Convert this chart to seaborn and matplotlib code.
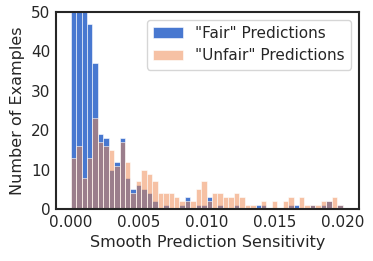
import numpy as np
import pandas as pd
import matplotlib
matplotlib.use("Agg")
import matplotlib.pyplot as plt
import seaborn as sns

# Histogram counts per bin (bin width 0.0004 over 0 .. 0.02)
bin_start = 0.0
bin_stop = 0.02
n_bins = 50
fair_counts = [100, 80, 60, 47, 37, 19, 18, 10, 12, 18,
               8, 5, 6, 5, 4, 2, 0, 1, 0, 0,
               1, 3, 0, 1, 1, 3, 0, 1, 0, 0,
               1, 0, 0, 0, 1, 1, 0, 0, 0, 0,
               1, 1, 0, 0, 1, 0, 1, 2, 0, 1]
unfair_counts = [13, 16, 8, 13, 23, 17, 16, 15, 11, 17,
                 12, 4, 7, 10, 9, 7, 4, 4, 4, 3,
                 2, 2, 2, 5, 7, 2, 4, 4, 3, 3,
                 4, 3, 1, 1, 0, 2, 0, 2, 0, 2,
                 3, 0, 3, 1, 1, 1, 2, 2, 3, 1]
labels = ['"Fair" Predictions', '"Unfair" Predictions']
x_ticks = [0.000, 0.005, 0.010, 0.015, 0.020]
y_ticks = [0, 10, 20, 30, 40, 50]

edges = np.linspace(bin_start, bin_stop, n_bins + 1)
centers = (edges[:-1] + edges[1:]) / 2
df_fair = pd.DataFrame({"x": centers, "w": fair_counts})
df_unfair = pd.DataFrame({"x": centers, "w": unfair_counts})

sns.set_theme(style="white", palette="muted")
plt.rcParams['font.family'] = ['DejaVu Sans']
pal = sns.color_palette("muted")

fig, ax = plt.subplots(figsize=(3.73, 2.61), dpi=100)
fig.subplots_adjust(left=0.150, right=0.962, top=0.954, bottom=0.199)

sns.histplot(data=df_fair, x="x", weights="w", bins=n_bins,
             binrange=(bin_start, bin_stop), color=pal[0],
             alpha=1.0, edgecolor="white", linewidth=0.4, label=labels[0], ax=ax)
sns.histplot(data=df_unfair, x="x", weights="w", bins=n_bins,
             binrange=(bin_start, bin_stop), color=pal[1],
             alpha=0.5, edgecolor="white", linewidth=0.4, label=labels[1], ax=ax)

ax.set_xlim(-0.00108, 0.0212)
ax.set_ylim(0, 50)
ax.set_xticks(x_ticks)
ax.set_xticklabels([f"{t:.3f}" for t in x_ticks], fontsize=11)
ax.set_yticks(y_ticks)
ax.set_yticklabels([str(t) for t in y_ticks], fontsize=11)
ax.tick_params(axis="both", length=0, pad=4, colors=".15")
ax.set_xlabel("Smooth Prediction Sensitivity", fontsize=11.5, color=".15")
ax.set_ylabel("Number of Examples", fontsize=11.5, color=".15")
for s in ax.spines.values():
    s.set_color(".15")
    s.set_linewidth(1.5)
ax.legend(loc="upper right", fontsize=11, frameon=True)

fig.savefig("out.png", dpi=100)
